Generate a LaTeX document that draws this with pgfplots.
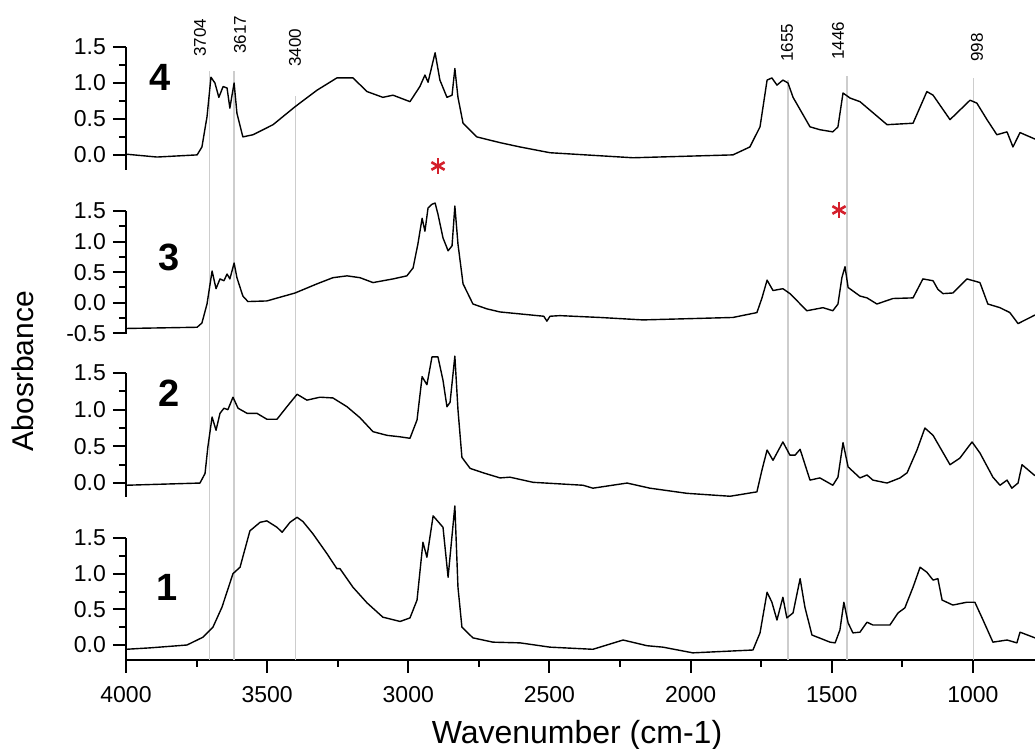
\documentclass[border=0pt]{standalone}
\usepackage{fontspec}
\setmainfont{Liberation Sans}
\usepackage{pgfplots}
\pgfplotsset{compat=1.18}
\usepackage{pgfplotstable}

\pgfplotstableread{
wn val
4000 0.01
3890 -0.03
3748 0.00
3731 0.11
3713 0.53
3699 1.08
3685 1.00
3671 0.80
3656 0.95
3642 0.93
3632 0.65
3617 1.00
3607 0.58
3586 0.25
3550 0.28
3479 0.42
3401 0.67
3323 0.90
3253 1.07
3196 1.07
3146 0.88
3090 0.80
3054 0.83
2994 0.74
2959 0.95
2941 1.11
2930 1.01
2905 1.42
2888 1.04
2863 0.80
2845 0.83
2835 1.20
2824 0.80
2806 0.44
2757 0.25
2675 0.17
2604 0.11
2498 0.03
2204 -0.04
1850 0.00
1790 0.11
1754 0.39
1729 1.04
1712 1.07
1694 0.97
1673 1.04
1655 1.00
1637 0.80
1577 0.39
1542 0.35
1496 0.32
1478 0.39
1460 0.86
1435 0.79
1400 0.74
1304 0.42
1212 0.44
1163 0.88
1141 0.83
1081 0.49
1010 0.76
986 0.72
950 0.49
915 0.28
879 0.32
858 0.11
833 0.31
780 0.22
}\specD

\pgfplotstableread{
wn val
4000 -0.42
3748 -0.40
3731 -0.33
3713 -0.02
3695 0.52
3681 0.23
3667 0.39
3653 0.36
3642 0.47
3632 0.39
3617 0.65
3607 0.41
3586 0.11
3568 0.02
3501 0.03
3401 0.16
3323 0.31
3267 0.41
3217 0.44
3171 0.41
3125 0.33
3054 0.39
3005 0.44
2983 0.57
2966 0.96
2951 1.38
2941 1.17
2930 1.55
2916 1.61
2905 1.63
2895 1.45
2877 1.06
2859 0.85
2845 0.93
2835 1.58
2824 0.96
2806 0.31
2771 -0.02
2721 -0.10
2675 -0.15
2520 -0.22
2509 -0.30
2498 -0.22
2463 -0.21
2321 -0.24
2169 -0.28
1850 -0.24
1765 -0.16
1747 0.08
1729 0.37
1708 0.20
1673 0.23
1648 0.15
1588 -0.13
1531 -0.08
1496 -0.13
1478 -0.02
1464 0.41
1453 0.59
1442 0.25
1400 0.11
1375 0.08
1340 -0.02
1283 0.07
1212 0.08
1177 0.39
1141 0.36
1124 0.22
1106 0.15
1071 0.16
1021 0.39
975 0.33
947 -0.02
904 -0.08
869 -0.16
840 -0.34
780 -0.20
}\specC

\pgfplotstableread{
wn val
4000 -0.03
3738 0.00
3720 0.13
3710 0.49
3695 0.90
3681 0.72
3667 0.95
3653 1.02
3639 1.00
3621 1.17
3603 1.02
3571 0.95
3536 0.95
3501 0.87
3465 0.87
3430 1.04
3394 1.21
3359 1.13
3313 1.17
3267 1.16
3217 1.04
3171 0.89
3125 0.70
3075 0.65
3029 0.63
2994 0.61
2969 0.86
2951 1.45
2934 1.34
2916 1.72
2895 1.72
2877 1.40
2863 1.04
2852 1.10
2835 1.73
2824 1.00
2810 0.35
2781 0.20
2735 0.14
2675 0.07
2640 0.08
2558 0.01
2381 -0.03
2346 -0.07
2225 0.00
2144 -0.07
2013 -0.14
1860 -0.18
1765 -0.12
1747 0.18
1729 0.45
1708 0.31
1673 0.56
1648 0.38
1630 0.38
1612 0.46
1577 0.04
1542 0.07
1496 -0.03
1478 0.08
1460 0.55
1442 0.22
1400 0.07
1375 0.11
1354 0.04
1304 0.00
1258 0.07
1233 0.14
1198 0.45
1170 0.75
1141 0.65
1117 0.49
1081 0.25
1046 0.34
1003 0.56
975 0.41
929 0.08
904 -0.03
879 0.04
862 -0.07
840 0.00
826 0.25
780 0.10
}\specB

\pgfplotstableread{
wn val
4000 -0.06
3915 -0.04
3784 0.00
3727 0.11
3692 0.25
3660 0.53
3621 1.00
3596 1.09
3561 1.60
3525 1.72
3501 1.74
3465 1.65
3447 1.58
3419 1.72
3394 1.79
3373 1.73
3338 1.56
3288 1.28
3253 1.07
3242 1.07
3196 0.81
3146 0.59
3090 0.39
3029 0.33
2994 0.38
2969 0.63
2948 1.44
2934 1.23
2912 1.81
2877 1.65
2859 0.95
2835 1.95
2824 0.81
2810 0.25
2771 0.10
2700 0.04
2604 0.03
2498 -0.03
2346 -0.06
2239 0.07
2154 -0.01
2098 -0.03
1992 -0.11
1779 -0.07
1754 0.17
1729 0.74
1712 0.60
1694 0.35
1673 0.67
1659 0.38
1637 0.45
1612 0.93
1595 0.53
1570 0.14
1506 0.04
1488 0.03
1471 0.21
1457 0.60
1442 0.31
1425 0.17
1400 0.18
1375 0.32
1354 0.28
1294 0.28
1265 0.45
1241 0.52
1212 0.81
1187 1.09
1163 1.02
1141 0.91
1124 0.93
1109 0.63
1071 0.56
1021 0.60
993 0.60
964 0.35
929 0.04
879 0.07
844 0.03
833 0.18
780 0.10
}\specA

\definecolor{astred}{RGB}{212,32,44}
\definecolor{refgrey}{RGB}{205,205,205}

\pgfplotsset{
  panel/.style={
    scale only axis, width=454.5pt, anchor=south west,
    xmin=780, xmax=4000, x dir=reverse, clip=false,
    axis y line*=left,
    ytick={0,0.5,1,1.5}, minor y tick num=1,
    tick align=outside, major tick length=6.5pt, minor tick length=3.5pt,
    every tick/.style={black, line width=1pt},
    axis line style={black, line width=1.2pt},
    /pgf/number format/assume math mode=true,
    tick label style={font=\fontsize{11.5}{13}\selectfont},
    yticklabel style={/pgf/number format/fixed, /pgf/number format/fixed zerofill, /pgf/number format/precision=1},
    no markers,
  },
  spec/.style={black, line width=0.7pt, line join=round, mark=none},
}

\begin{document}
\begin{tikzpicture}
\path[use as bounding box] (0,0) rectangle (517.5pt,374.5pt);

% panel 1 (bottom, with x axis)
\begin{axis}[panel, at={(63pt,44.5pt)}, height=61pt, ymin=-0.21, ymax=1.5,
  axis x line*=bottom, xtick={1000,1500,2000,2500,3000,3500,4000}, minor x tick num=1,
  xticklabel style={/pgf/number format/1000 sep={}, yshift=-3pt}]
  \draw[refgrey, line width=0.7pt] (axis cs:3704,-0.21) -- (axis cs:3704,8.04);
  \draw[refgrey, line width=0.7pt] (axis cs:3617,-0.21) -- (axis cs:3617,8.04);
  \draw[refgrey, line width=0.7pt] (axis cs:3400,-0.21) -- (axis cs:3400,7.69);
  \draw[refgrey, line width=0.7pt] (axis cs:1655,-0.21) -- (axis cs:1655,7.92);
  \draw[refgrey, line width=0.7pt] (axis cs:1446,-0.21) -- (axis cs:1446,7.97);
  \draw[refgrey, line width=0.7pt] (axis cs:998,-0.21) -- (axis cs:998,7.95);
  \addplot[spec] table[x=wn,y=val] {\specA};
\end{axis}

% panel 2
\begin{axis}[panel, axis x line=none, at={(63pt,126pt)}, height=62pt, ymin=-0.19, ymax=1.5]
  \addplot[spec] table[x=wn,y=val] {\specB};
\end{axis}

% panel 3
\begin{axis}[panel, axis x line=none, at={(63pt,207.5pt)}, height=61.5pt, ymin=-0.51, ymax=1.5,
  ytick={-0.5,0,0.5,1,1.5}]
  \addplot[spec] table[x=wn,y=val] {\specC};
\end{axis}

% panel 4
\begin{axis}[panel, axis x line=none, at={(63pt,289.5pt)}, height=61.5pt, ymin=-0.21, ymax=1.5]
  \addplot[spec] table[x=wn,y=val] {\specD};
\end{axis}

% panel numbers
\begin{scope}[every node/.style={font=\fontsize{19}{22}\selectfont\bfseries, inner sep=0pt}]
\node at (80pt,336pt) {4};
\node at (84.5pt,246pt) {3};
\node at (84.5pt,178pt) {2};
\node at (83.5pt,81pt) {1};
\end{scope}

% peak labels
\begin{scope}[every node/.style={font=\fontsize{8.5}{10}\selectfont, rotate=90, anchor=west, inner sep=0pt}]
\node at (100pt,346pt) {3704};
\node at (120pt,347.5pt) {3617};
\node at (147.5pt,341pt) {3400};
\node at (393.5pt,343.5pt) {1655};
\node at (419pt,344.5pt) {1446};
\node at (488.5pt,343.5pt) {998};
\end{scope}

% asterisks
\foreach \cx/\cy in {219/291.5, 419.5/269.5}{
  \draw[astred, line width=1.3pt] (\cx pt,\cy pt+3.8pt) -- (\cx pt,\cy pt-3.8pt);
  \draw[astred, line width=1.3pt] ([shift={(30:3.8pt)}]\cx pt,\cy pt) -- ([shift={(210:3.8pt)}]\cx pt,\cy pt);
  \draw[astred, line width=1.3pt] ([shift={(150:3.8pt)}]\cx pt,\cy pt) -- ([shift={(330:3.8pt)}]\cx pt,\cy pt);
}

% axis labels
\node[rotate=90, anchor=base, inner sep=0pt, font=\fontsize{15}{18}\selectfont] at (16.5pt,189pt) {Abosrbance};
\node[anchor=base, inner sep=0pt, font=\fontsize{16}{19}\selectfont] at (288.5pt,2.5pt) {Wavenumber (cm-1)};
\end{tikzpicture}
\end{document}
